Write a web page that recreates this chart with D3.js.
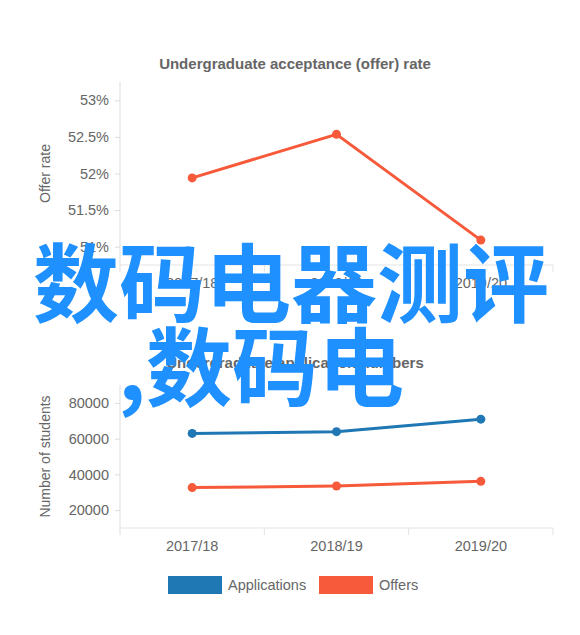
<!DOCTYPE html>
<html>
<head>
<meta charset="utf-8">
<script src="https://cdn.jsdelivr.net/npm/d3@7"></script>
<style>
  body { margin: 0; background: #fff; }
  svg { display: block; font-family: "Liberation Sans", Arial, sans-serif; }
</style>
</head>
<body>
<div id="chart"></div>
<script>
const years = ['2017/18', '2018/19', '2019/20'];
const offerRate = [51.94, 52.535, 51.09];
const rateTicks = [51, 51.5, 52, 52.5, 53];
const applications = [62900, 63900, 70900];
const offers = [32600, 33500, 36100];
const studentTicks = [20000, 40000, 60000, 80000];
const seriesNames = ['Applications', 'Offers'];
const colors = ['#1f77b4', '#f65a3a'];

const W = 580, H = 635;
const svg = d3.select('#chart').append('svg')
    .attr('width', W)
    .attr('height', H);

function createLineChart(g, opts) {
    const left = 120, right = 553;

    const x = d3.scaleBand()
        .domain(years)
        .range([left, right]);

    const y = d3.scaleLinear()
        .domain(opts.domain)
        .range([opts.bottom, opts.top]);

    // title
    g.append('text')
        .attr('x', 295)
        .attr('y', opts.titleY)
        .attr('text-anchor', 'middle')
        .style('font-size', '15px')
        .style('font-weight', 'bold')
        .style('fill', '#666')
        .text(opts.title);

    // y axis
    const yAxis = g.append('g')
        .attr('transform', `translate(${left},0)`)
        .call(d3.axisLeft(y).tickValues(opts.ticks).tickFormat(opts.fmt).tickSize(5).tickPadding(6));
    yAxis.select('.domain').remove();
    yAxis.append('line')
        .attr('y1', opts.top).attr('y2', opts.bottom + 7)
        .attr('stroke', '#ddd');
    yAxis.selectAll('.tick line').attr('stroke', '#ddd');
    yAxis.selectAll('text')
        .style('font-size', '14.5px')
        .style('fill', '#666');

    // x axis
    const xAxis = g.append('g')
        .attr('transform', `translate(0,${opts.bottom})`)
        .call(d3.axisBottom(x).tickSize(0).tickPadding(13));
    xAxis.select('.domain').remove();
    xAxis.append('line')
        .attr('x1', left).attr('x2', right)
        .attr('stroke', '#e3e3e3');
    xAxis.selectAll('.boundary')
        .data(years.slice(1).map(d => x(d)).concat([right]))
        .enter().append('line')
        .attr('x1', d => d).attr('x2', d => d)
        .attr('y1', 0).attr('y2', 7)
        .attr('stroke', '#e3e3e3');
    xAxis.selectAll('text')
        .style('font-size', '14.5px')
        .style('fill', '#666');

    // y label
    g.append('text')
        .attr('transform', `translate(50,${(opts.top + opts.bottom) / 2}) rotate(-90)`)
        .attr('text-anchor', 'middle')
        .style('font-size', '14px')
        .style('fill', '#666')
        .text(opts.yLabel);

    const line = d3.line()
        .x((d, i) => x(years[i]) + x.bandwidth() / 2)
        .y(d => y(d));

    opts.series.forEach((s, k) => {
        g.append('path')
            .datum(s.values)
            .attr('fill', 'none')
            .attr('stroke', s.color)
            .attr('stroke-width', 3)
            .attr('d', line);

        g.selectAll('.pt' + k)
            .data(s.values)
            .enter().append('circle')
            .attr('cx', (d, i) => x(years[i]) + x.bandwidth() / 2)
            .attr('cy', d => y(d))
            .attr('r', 4.5)
            .attr('fill', s.color);
    });
}

createLineChart(svg.append('g'), {
    title: 'Undergraduate acceptance (offer) rate',
    titleY: 69,
    top: 82, bottom: 265,
    domain: [50.75, 53.25],
    ticks: rateTicks,
    fmt: d => d + '%',
    yLabel: 'Offer rate',
    series: [{ values: offerRate, color: colors[1] }]
});

createLineChart(svg.append('g'), {
    title: 'Undergraduate application numbers',
    titleY: 368,
    top: 385, bottom: 528,
    domain: [10000, 90000],
    ticks: studentTicks,
    fmt: d3.format('d'),
    yLabel: 'Number of students',
    series: [
        { values: applications, color: colors[0] },
        { values: offers, color: colors[1] }
    ]
});

// legend
const legend = svg.append('g').attr('transform', 'translate(168,576)');
const legendX = [0, 151];
seriesNames.forEach((name, i) => {
    legend.append('rect')
        .attr('x', legendX[i]).attr('y', 0)
        .attr('width', 54).attr('height', 18)
        .attr('fill', colors[i]);
    legend.append('text')
        .attr('x', legendX[i] + 60).attr('y', 14)
        .style('font-size', '14.5px')
        .style('fill', '#666')
        .text(name);
});

// overlay text
const overlay = svg.append('g')
    .style('font-family', '"Noto Sans CJK SC", sans-serif')
    .style('font-weight', 'bold')
    .style('font-size', '86px')
    .style('fill', '#1e90ff');
overlay.append('text').attr('x', 33).attr('y', 316).text('数码电器测评');
overlay.append('text').attr('x', 118).attr('y', 400).text(',数码电');
</script>
</body>
</html>
